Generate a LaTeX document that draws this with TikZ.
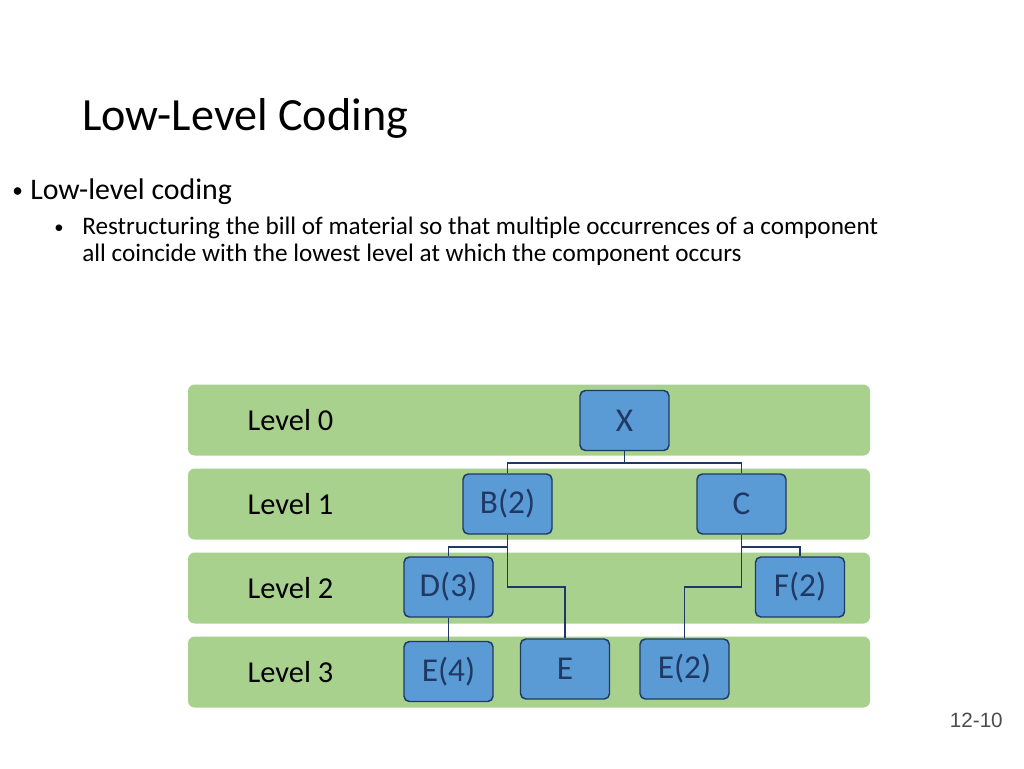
\documentclass[tikz,border=0pt]{standalone}
\usepackage{fontspec}
\setmainfont{Carlito}
\newfontfamily\pagefont{Liberation Sans}
\usepackage{xcolor}
\usetikzlibrary{positioning, calc}

\definecolor{bandgreen}{HTML}{A9D18E}
\definecolor{boxblue}{HTML}{5B9BD5}
\definecolor{boxnavy}{HTML}{1F3864}

\tikzset{
  band/.style={fill=bandgreen, rounded corners=5, draw=none},
  part/.style={draw=boxnavy, fill=boxblue, line width=1.1pt, rounded corners=4,
    minimum width=89*0.75pt, minimum height=60*0.75pt, inner sep=0pt,
    text=boxnavy, font=\fontsize{25}{29}\selectfont},
  levellabel/.style={anchor=west, font=\fontsize{22.8}{27}\selectfont},
  link/.style={draw=boxnavy, line width=1.2pt},
  bodytext/.style={anchor=base west, inner sep=0pt}
}

\begin{document}
\begin{tikzpicture}[x=0.75pt,y=-0.75pt]
  % Slide frame
  \useasboundingbox (0,0) rectangle (1024,768);
  \fill[white] (0,0) rectangle (1024,768);

  % Title and bullets
  \node[bodytext, font=\fontsize{34.6}{40}\selectfont] (title) at (82,130) {Low-Level Coding};
  \node[bodytext, font=\fontsize{16}{20}\selectfont] (dot1) at (12,197) {\textbullet};
  \node[bodytext, font=\fontsize{22.4}{26}\selectfont] (bullet1) at (30,199) {Low-level coding};
  \node[bodytext, font=\fontsize{14}{18}\selectfont] (dot2) at (54,233) {\textbullet};
  \node[bodytext, font=\fontsize{18.9}{22}\selectfont] (bullet2a) at (82,234)
    {Restructuring the bill of material so that multiple occurrences of a component};
  \node[bodytext, font=\fontsize{18.9}{22}\selectfont] (bullet2b) at (82,261)
    {all coincide with the lowest level at which the component occurs};

  % Level bands
  \foreach \lv/\yc in {0/420, 1/504, 2/588, 3/672} {
    \fill[band] (188,\yc-35.5) rectangle (870,\yc+35.5);
    \node[levellabel] (level\lv) at (243,\yc) {Level \lv};
  }

  % Parts
  \node[part] (X) at (624.5,420.5) {X};
  \node[part] (B) at (507.5,504) {B(2)};
  \node[part] (C) at (741.5,504) {C};
  \node[part] (D) at (448.5,587) {D(3)};
  \node[part] (F) at (800,587) {F(2)};
  \node[part] (E4) at (448.5,671.5) {E(4)};
  \node[part] (E) at (565,669) {E};
  \node[part] (E2) at (684.5,669) {E(2)};

  % Connectors
  \draw[link] (X.south) -- ++(0,11.5) -| (B.north);
  \draw[link] (X.south) -- ++(0,11.5) -| (C.north);
  \draw[link] (B.south) -- ++(0,12.5) -| (D.north);
  \draw[link] (B.south) -- (B.south |- D.center) -| (E.north);
  \draw[link] (C.south) -- ++(0,12.5) -| (F.north);
  \draw[link] (C.south) -- (C.south |- F.center) -| (E2.north);
  \draw[link] (D.south) -- (E4.north);

  % Page number
  \node[bodytext, anchor=base east, text=black!70, font=\pagefont\fontsize{15.5}{18}\selectfont] (pagenum) at (1003,727) {12-10};
\end{tikzpicture}
\end{document}
